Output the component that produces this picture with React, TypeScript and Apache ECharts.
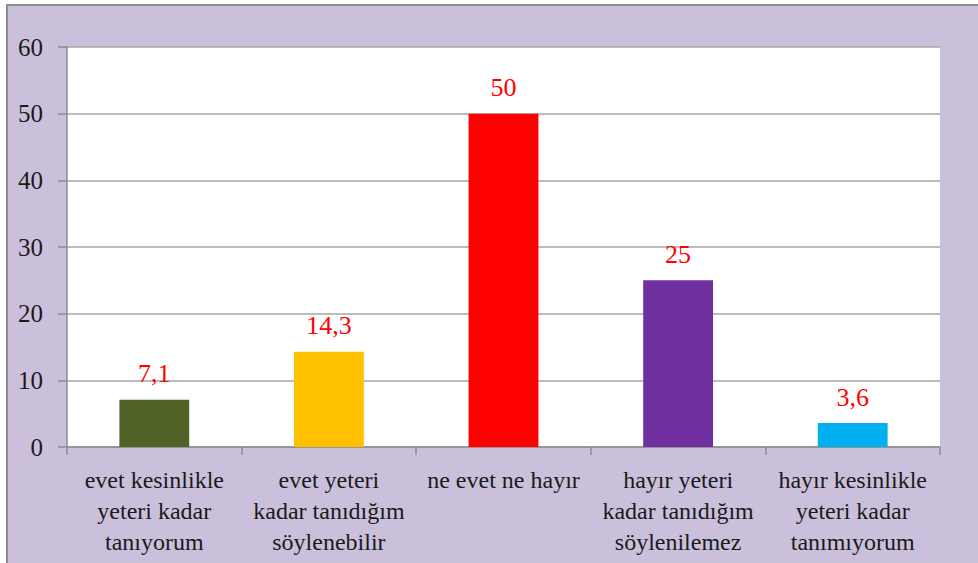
import React, { useEffect, useRef } from "react";
import * as echarts from "echarts";

const categories = [
  "evet kesinlikle\nyeteri kadar\ntanıyorum",
  "evet yeteri\nkadar tanıdığım\nsöylenebilir",
  "ne evet ne hayır",
  "hayır yeteri\nkadar tanıdığım\nsöylenilemez",
  "hayır kesinlikle\nyeteri kadar\ntanımıyorum",
];
const values = [7.1, 14.3, 50, 25, 3.6];
const valueLabels = ["7,1", "14,3", "50", "25", "3,6"];
const barColors = ["#4f6228", "#ffc000", "#ff0000", "#7030a0", "#00b0f0"];

export default function App() {
  const ref = useRef<HTMLDivElement>(null);
  useEffect(() => {
    if (!ref.current) return;
    const chart = echarts.init(ref.current, undefined, { renderer: "svg" });
    const font = "Liberation Serif";
    chart.setOption({
      animation: false,
      backgroundColor: "transparent",
      textStyle: { fontFamily: font },
      grid: {
        left: 67,
        right: 38,
        top: 47,
        bottom: 116,
        show: true,
        backgroundColor: "#ffffff",
        borderWidth: 0,
        containLabel: false,
      },
      xAxis: {
        type: "category",
        data: categories,
        boundaryGap: true,
        axisLine: { show: true, lineStyle: { color: "#8c8c8c", width: 1.5 } },
        axisTick: { show: true, length: 8, alignWithLabel: false, lineStyle: { color: "#8c8c8c", width: 1.5 } },
        axisLabel: {
          interval: 0,
          margin: 17,
          fontFamily: font,
          fontSize: 24,
          lineHeight: 31,
          color: "#1a1a1a",
          align: "center",
        },
      },
      yAxis: {
        type: "value",
        min: 0,
        max: 60,
        interval: 10,
        axisLine: { show: true, lineStyle: { color: "#8c8c8c", width: 1.5 } },
        axisTick: { show: true, length: 9, lineStyle: { color: "#8c8c8c", width: 1.5 } },
        splitLine: { show: true, lineStyle: { color: "#a6a6a6", width: 1.5 } },
        axisLabel: {
          margin: 24,
          fontFamily: font,
          fontSize: 25,
          color: "#1a1a1a",
        },
      },
      series: [
        {
          type: "bar",
          barWidth: "40%",
          data: values.map((v, i) => ({ value: v, itemStyle: { color: barColors[i] } })),
          label: {
            show: true,
            position: "top",
            distance: 13,
            fontFamily: font,
            fontSize: 26,
            color: "#ff0000",
            formatter: (p: any) => valueLabels[p.dataIndex],
          },
        },
      ],
    });
    return () => chart.dispose();
  }, []);
  return (
    <div style={{ position: "fixed", left: 0, top: 0, width: 978, height: 563, background: "#ffffff" }}>
      <div
        style={{
          position: "absolute",
          left: 6,
          top: 4,
          right: 0,
          bottom: 0,
          background: "#cbc0dc",
          borderTop: "2px solid #8c8c8c",
          borderLeft: "2px solid #8c8c8c",
        }}
      />
      <div ref={ref} style={{ position: "absolute", left: 0, top: 0, width: 978, height: 563 }} />
    </div>
  );
}
